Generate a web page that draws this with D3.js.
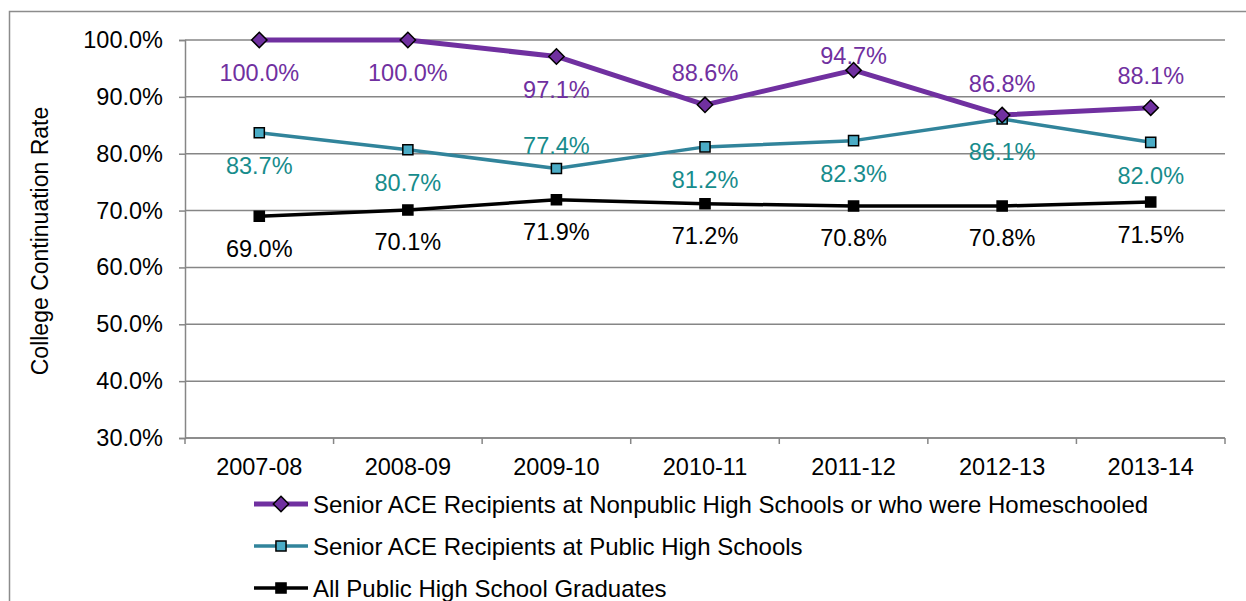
<!DOCTYPE html>
<html>
<head>
<meta charset="utf-8">
<script src="https://cdn.jsdelivr.net/npm/d3@7"></script>
<style>
  body { margin: 0; background: #fff; }
  svg text { font-family: "Liberation Sans", Arial, sans-serif; }
</style>
</head>
<body>
<div id="chart"></div>
<script>
// data
var years = ["2007-08", "2008-09", "2009-10", "2010-11", "2011-12", "2012-13", "2013-14"];
var nonpublicRates = [100.0, 100.0, 97.1, 88.6, 94.7, 86.8, 88.1];
var publicAceRates = [83.7, 80.7, 77.4, 81.2, 82.3, 86.1, 82.0];
var allPublicRates = [69.0, 70.1, 71.9, 71.2, 70.8, 70.8, 71.5];
var yTicks = [30, 40, 50, 60, 70, 80, 90, 100];
var seriesNames = [
  "Senior ACE Recipients at Nonpublic High Schools or who were Homeschooled",
  "Senior ACE Recipients at Public High Schools",
  "All Public High School Graduates"
];

// label offsets (px from point, negative = above)
var nonpublicLabelDy = [33, 33, 33, -32, -15, -32, -32];
var publicAceLabelDy = [33, 33, -23, 33, 33, 33, 33];
var allPublicLabelDy = [32, 32, 32, 32, 32, 32, 32];

var W = 1246, H = 601;
var margin = { top: 40, right: 21, bottom: 163, left: 185 };
var plotW = W - margin.left - margin.right;
var plotH = H - margin.top - margin.bottom;
var fontSize = 23.5;

var svg = d3.select("#chart").append("svg")
  .attr("width", W)
  .attr("height", H);

// chart border
svg.append("rect")
  .attr("x", 9.5).attr("y", 11.5)
  .attr("width", W + 20).attr("height", H + 20)
  .attr("fill", "none")
  .attr("stroke", "#8c8c8c")
  .attr("stroke-width", 1.5);

var g = svg.append("g")
  .attr("transform", "translate(" + margin.left + "," + margin.top + ")");

var xScale = d3.scaleBand().domain(years).range([0, plotW]);
var yScale = d3.scaleLinear().domain([30, 100]).range([plotH, 0]);

// gridlines
g.selectAll("line.grid")
  .data(yTicks)
  .enter().append("line")
  .attr("class", "grid")
  .attr("x1", 0).attr("x2", plotW)
  .attr("y1", function (d) { return yScale(d); })
  .attr("y2", function (d) { return yScale(d); })
  .attr("stroke", "#868686")
  .attr("stroke-width", 1.5);

// y axis
var yAxis = d3.axisLeft(yScale)
  .tickValues(yTicks)
  .tickSize(6)
  .tickPadding(16)
  .tickFormat(function (d) { return d.toFixed(1) + "%"; });

var yG = g.append("g").call(yAxis);
yG.select(".domain").attr("stroke", "#868686").attr("stroke-width", 1.5);
yG.selectAll(".tick line").attr("stroke", "#868686").attr("stroke-width", 1.5);
yG.selectAll(".tick text").attr("font-size", fontSize).attr("fill", "#000")
  .style("font-family", "'Liberation Sans', Arial, sans-serif");

// x axis with ticks at band boundaries
var xG = g.append("g").attr("transform", "translate(0," + plotH + ")");
xG.append("line")
  .attr("x1", 0).attr("x2", plotW)
  .attr("stroke", "#868686").attr("stroke-width", 1.5);
xG.selectAll("line.xtick")
  .data(years.concat(["end"]))
  .enter().append("line")
  .attr("class", "xtick")
  .attr("x1", function (d, i) { return i * xScale.step(); })
  .attr("x2", function (d, i) { return i * xScale.step(); })
  .attr("y1", 0).attr("y2", 6)
  .attr("stroke", "#868686").attr("stroke-width", 1.5);
xG.selectAll("text")
  .data(years)
  .enter().append("text")
  .attr("x", function (d) { return xScale(d) + xScale.bandwidth() / 2; })
  .attr("y", 37)
  .attr("text-anchor", "middle")
  .attr("font-size", fontSize)
  .text(function (d) { return d; });

// y axis title
g.append("text")
  .attr("transform", "translate(" + (-137) + "," + (plotH / 2 + 2) + ") rotate(-90)")
  .attr("text-anchor", "middle")
  .attr("font-size", 23)
  .text("College Continuation Rate");

var series = [
  { name: seriesNames[0], values: nonpublicRates, dy: nonpublicLabelDy, line: "#7030A0", fill: "#7030A0", label: "#7030A0", width: 5, symbol: d3.symbolDiamond2, size: 150 },
  { name: seriesNames[1], values: publicAceRates, dy: publicAceLabelDy, line: "#31849B", fill: "#4BACC6", label: "#178C8C", width: 3.5, symbol: d3.symbolSquare2, size: 130 },
  { name: seriesNames[2], values: allPublicRates, dy: allPublicLabelDy, line: "#000000", fill: "#000000", label: "#000000", width: 3.5, symbol: d3.symbolSquare2, size: 130 }
];

var xPos = function (d, i) { return xScale(years[i]) + xScale.bandwidth() / 2; };

var line = d3.line()
  .x(xPos)
  .y(function (d) { return yScale(d); });

// draw from the back series forward
series.slice().reverse().forEach(function (s) {
  var sg = g.append("g");
  sg.append("path")
    .datum(s.values)
    .attr("fill", "none")
    .attr("stroke", s.line)
    .attr("stroke-width", s.width)
    .attr("stroke-linejoin", "round")
    .attr("d", line);

  sg.selectAll("path.marker")
    .data(s.values)
    .enter().append("path")
    .attr("class", "marker")
    .attr("transform", function (d, i) { return "translate(" + xPos(d, i) + "," + yScale(d) + ")"; })
    .attr("d", d3.symbol().type(s.symbol).size(s.size))
    .attr("fill", s.fill)
    .attr("stroke", "#000")
    .attr("stroke-width", 1.5);
});

// data labels on top
series.forEach(function (s) {
  g.selectAll(null)
    .data(s.values)
    .enter().append("text")
    .attr("x", xPos)
    .attr("y", function (d, i) { return yScale(d) + s.dy[i]; })
    .attr("dy", "0.36em")
    .attr("text-anchor", "middle")
    .attr("font-size", fontSize)
    .attr("fill", s.label)
    .text(function (d) { return d.toFixed(1) + "%"; });
});

// legend
var legend = svg.append("g").attr("transform", "translate(254,504)");
series.forEach(function (s, i) {
  var lg = legend.append("g").attr("transform", "translate(0," + (i * 42) + ")");
  lg.append("line")
    .attr("x1", 0).attr("x2", 54)
    .attr("stroke", s.line)
    .attr("stroke-width", s.width);
  lg.append("path")
    .attr("transform", "translate(27,0)")
    .attr("d", d3.symbol().type(s.symbol).size(s.size))
    .attr("fill", s.fill)
    .attr("stroke", "#000")
    .attr("stroke-width", 1.5);
  lg.append("text")
    .attr("x", 59)
    .attr("dy", "0.36em")
    .attr("font-size", 24)
    .text(s.name);
});
</script>
</body>
</html>
